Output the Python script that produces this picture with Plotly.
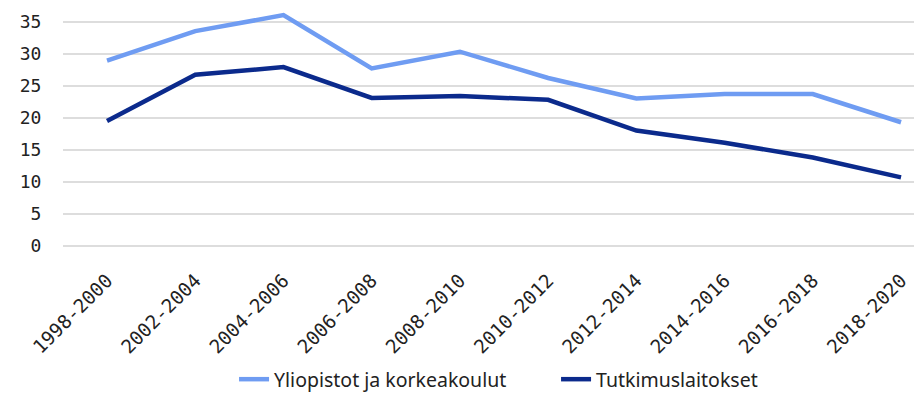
import plotly.graph_objects as go

periods = ["1998-2000", "2002-2004", "2004-2006", "2006-2008", "2008-2010",
           "2010-2012", "2012-2014", "2014-2016", "2016-2018", "2018-2020"]
yliopistot = [28.9, 33.5, 36.0, 27.7, 30.3, 26.2, 23.0, 23.7, 23.7, 19.3]
tutkimuslaitokset = [19.5, 26.7, 27.9, 23.1, 23.4, 22.8, 18.0, 16.1, 13.8, 10.7]
y_ticks = [0, 5, 10, 15, 20, 25, 30, 35]

fig = go.Figure()
fig.add_trace(go.Scatter(x=periods, y=yliopistot, mode="lines",
                         name="Yliopistot ja korkeakoulut",
                         line=dict(color="#6f9cf2", width=4.5)))
fig.add_trace(go.Scatter(x=periods, y=tutkimuslaitokset, mode="lines",
                         name="Tutkimuslaitokset",
                         line=dict(color="#0b2a8c", width=4.5)))

fig.update_layout(
    width=906, height=391,
    margin=dict(l=55, r=0, t=0, b=143),
    paper_bgcolor="white", plot_bgcolor="white",
    showlegend=True,
    legend=dict(orientation="h", x=0.201, xanchor="left", y=-0.548, yanchor="middle",
                font=dict(family="Noto Sans", size=19.5, color="#222222"),
                itemwidth=30, entrywidth=277, entrywidthmode="pixels"),
    xaxis=dict(type="category", range=[-0.499, 9.147], showgrid=False, zeroline=False,
               showline=False, tickangle=-45, automargin=False,
               ticks="outside", ticklen=13, tickcolor="rgba(0,0,0,0)",
               tickfont=dict(family="DejaVu Sans Mono", size=19, color="#222222")),
    yaxis=dict(range=[-0.3, 37.11], tickvals=y_ticks, showgrid=True, automargin=False,
               gridcolor="#dddddd", gridwidth=1.5, zeroline=False, showline=False,
               ticks="outside", ticklen=17, tickcolor="rgba(0,0,0,0)",
               tickfont=dict(family="DejaVu Sans Mono", size=18, color="#222222")),
)

fig.write_html("out.html")
